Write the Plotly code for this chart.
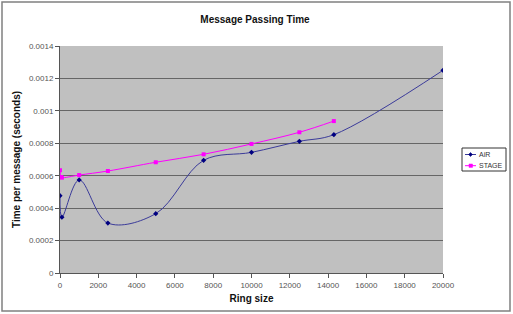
import plotly.graph_objects as go

air_x = [0, 100, 1000, 2500, 5000, 7500, 10000, 12500, 14300, 20000]
air_y = [0.000477, 0.000344, 0.000574, 0.000308, 0.000366, 0.000695, 0.000744, 0.000812, 0.000853, 0.00125]

stage_x = [0, 50, 100, 1000, 2500, 5000, 7500, 10000, 12500, 14300]
stage_y = [0.000633, 0.000592, 0.000588, 0.000604, 0.000629, 0.000683, 0.000732, 0.000796, 0.000868, 0.000937]

y_ticks = [0, 0.0002, 0.0004, 0.0006, 0.0008, 0.001, 0.0012, 0.0014]
y_tick_labels = ["0", "0.0002", "0.0004", "0.0006", "0.0008", "0.001", "0.0012", "0.0014"]
x_ticks = list(range(0, 20001, 2000))
x_tick_labels = [str(v) for v in x_ticks]

series_names = ["AiR", "STAGE"]
line_colors = ["#3b3b9a", "#ff00ff"]
marker_colors = ["#000080", "#ff00ff"]

W, H = 513, 314
L, R, T, B = 60, 70, 46, 41

fig = go.Figure()
fig.add_trace(go.Scatter(
    x=air_x, y=air_y, name=series_names[0], mode="lines+markers",
    line=dict(color=line_colors[0], width=1, shape="spline", smoothing=1.0),
    marker=dict(color=marker_colors[0], size=4, symbol="diamond"),
))
fig.add_trace(go.Scatter(
    x=stage_x, y=stage_y, name=series_names[1], mode="lines+markers",
    line=dict(color=line_colors[1], width=1, shape="spline", smoothing=1.0),
    marker=dict(color=marker_colors[1], size=4, symbol="square"),
))

pw = W - L - R
ph = H - T - B
def px(xp):
    return (xp - L) / pw
def py(yp):
    return (H - B - yp) / ph

# outer chart frame
fig.add_shape(type="rect", xref="paper", yref="paper",
              x0=px(2), x1=px(510), y0=py(311), y1=py(2),
              line=dict(color="#808080", width=1.5), fillcolor="rgba(0,0,0,0)", layer="below")

# compact Excel-style legend
fig.add_shape(type="rect", xref="paper", yref="paper",
              x0=px(462), x1=px(506), y0=py(171), y1=py(148),
              line=dict(color="#333333", width=1), fillcolor="white")
for i, (name, lc, mc) in enumerate(zip(series_names, line_colors, marker_colors)):
    yy = 154.5 + i * 11.2
    fig.add_shape(type="line", xref="paper", yref="paper",
                  x0=px(465), x1=px(476), y0=py(yy), y1=py(yy),
                  line=dict(color=lc, width=1))
    if i == 0:
        fig.add_shape(type="path", xref="paper", yref="paper",
                      path="M {} {} L {} {} L {} {} L {} {} Z".format(
                          px(470.5), py(yy - 2), px(472.5), py(yy), px(470.5), py(yy + 2), px(468.5), py(yy)),
                      line=dict(color=mc, width=0.5), fillcolor=mc)
    else:
        fig.add_shape(type="rect", xref="paper", yref="paper",
                      x0=px(469), x1=px(472.5), y0=py(yy + 1.7), y1=py(yy - 1.7),
                      line=dict(color=mc, width=0.5), fillcolor=mc)
    fig.add_annotation(xref="paper", yref="paper", x=px(477), y=py(yy),
                       xanchor="left", yanchor="middle", text=name, showarrow=False,
                       font=dict(size=7, color="#333333"))

fig.update_layout(
    width=W, height=H,
    margin=dict(l=L, r=R, t=T, b=B),
    paper_bgcolor="white",
    plot_bgcolor="#c0c0c0",
    font=dict(family="Liberation Sans, Arial", size=8, color="#555555"),
    title=dict(text="<b>Message Passing Time</b>", x=255 / W, xanchor="center",
               y=1 - 19 / H, yanchor="middle", font=dict(size=10, color="#111111")),
    xaxis=dict(range=[0, 20000], tickvals=x_ticks, ticktext=x_tick_labels,
               showgrid=False, zeroline=False,
               showline=True, linecolor="#555555", linewidth=1,
               ticks="outside", ticklen=4, tickcolor="#555555",
               title=dict(text="<b>Ring size</b>", font=dict(size=10, color="#111111"), standoff=6)),
    yaxis=dict(range=[0, 0.0014], tickvals=y_ticks, ticktext=y_tick_labels,
               showgrid=True, gridcolor="#666666", gridwidth=1, zeroline=False,
               showline=True, linecolor="#555555", linewidth=1,
               ticks="outside", ticklen=4, tickcolor="#555555",
               title=dict(text="<b>Time per message (seconds)</b>", font=dict(size=10, color="#111111"), standoff=6)),
    showlegend=False,
)

fig.write_html("out.html")
